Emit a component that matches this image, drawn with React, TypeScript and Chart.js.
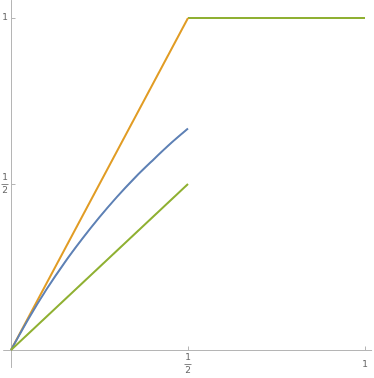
import React, { useEffect, useRef } from "react";
import { Chart, registerables } from "chart.js";

Chart.register(...registerables);

// Data
const blueX = [0, 0.05, 0.1, 0.15, 0.2, 0.25, 0.3, 0.35, 0.4, 0.45, 0.5];
const blueY = [0, 0.095, 0.182, 0.261, 0.333, 0.4, 0.462, 0.519, 0.571, 0.621, 0.667];
const orangeX = [0, 0.5];
const orangeY = [0, 1];
const greenTopX = [0.5, 1];
const greenTopY = [1, 1];
const greenLowX = [0, 0.5];
const greenLowY = [0, 0.5];

const xTickValues = [0.5, 1];
const xTickLabels = ["1/2", "1"];
const yTickValues = [0.5, 1];
const yTickLabels = ["1/2", "1"];

const BLUE = "#5E81B5";
const ORANGE = "#E19C24";
const GREEN = "#8FB032";
const AXIS = "#b5b5b5";
const LABEL = "#6a6a6a";

const pts = (xs: number[], ys: number[]) => xs.map((x, i) => ({ x, y: ys[i] }));

function drawLabel(ctx: CanvasRenderingContext2D, text: string, cx: number, cy: number) {
  ctx.save();
  ctx.fillStyle = LABEL;
  ctx.strokeStyle = LABEL;
  ctx.font = "9px 'DejaVu Sans', sans-serif";
  ctx.textAlign = "center";
  ctx.textBaseline = "middle";
  if (text.includes("/")) {
    const [n, d] = text.split("/");
    ctx.fillText(n, cx, cy - 6.5);
    ctx.lineWidth = 0.8;
    ctx.beginPath();
    ctx.moveTo(cx - 3.5, cy + 0.5);
    ctx.lineTo(cx + 3.5, cy + 0.5);
    ctx.stroke();
    ctx.fillText(d, cx, cy + 7);
  } else {
    ctx.fillText(text, cx, cy);
  }
  ctx.restore();
}

const axesPlugin = {
  id: "mmaAxes",
  beforeDatasetsDraw(chart: any) {
    const ctx: CanvasRenderingContext2D = chart.ctx;
    const xs = chart.scales.x;
    const ys = chart.scales.y;
    const x0 = Math.round(xs.getPixelForValue(0)) + 0.5;
    const y0 = Math.round(ys.getPixelForValue(0)) + 0.5;
    ctx.save();
    ctx.strokeStyle = AXIS;
    ctx.lineWidth = 1;
    ctx.beginPath();
    // x axis
    ctx.moveTo(xs.getPixelForValue(-0.022), y0);
    ctx.lineTo(xs.getPixelForValue(1.02), y0);
    // y axis
    ctx.moveTo(x0, ys.getPixelForValue(1.054));
    ctx.lineTo(x0, ys.getPixelForValue(-0.054));
    // ticks
    xTickValues.forEach((v) => {
      const px = Math.round(xs.getPixelForValue(v)) + 0.5;
      ctx.moveTo(px, y0);
      ctx.lineTo(px, y0 - 4);
    });
    yTickValues.forEach((v) => {
      const py = Math.round(ys.getPixelForValue(v)) + 0.5;
      ctx.moveTo(x0, py);
      ctx.lineTo(x0 + 4, py);
    });
    ctx.stroke();
    ctx.restore();

    xTickValues.forEach((v, i) => {
      const px = xs.getPixelForValue(v);
      const lab = xTickLabels[i];
      drawLabel(ctx, lab, px, lab.includes("/") ? y0 + 13.5 : y0 + 14);
    });
    yTickValues.forEach((v, i) => {
      const py = ys.getPixelForValue(v);
      drawLabel(ctx, yTickLabels[i], x0 - 6.5, py);
    });
  },
};

export default function App() {
  const ref = useRef<HTMLCanvasElement | null>(null);
  useEffect(() => {
    document.body.style.margin = "0";
    const canvas = ref.current!;
    const chart = new Chart(canvas, {
      type: "scatter",
      data: {
        datasets: [
          {
            data: pts(greenLowX, greenLowY),
            showLine: true,
            borderColor: GREEN,
            borderWidth: 2,
            pointRadius: 0,
          },
          {
            data: pts(blueX, blueY),
            showLine: true,
            borderColor: BLUE,
            borderWidth: 2,
            pointRadius: 0,
            cubicInterpolationMode: "monotone",
          },
          {
            data: pts(orangeX, orangeY),
            showLine: true,
            borderColor: ORANGE,
            borderWidth: 2,
            pointRadius: 0,
          },
          {
            data: pts(greenTopX, greenTopY),
            showLine: true,
            borderColor: GREEN,
            borderWidth: 2,
            pointRadius: 0,
          },
        ],
      },
      options: {
        responsive: false,
        animation: false,
        devicePixelRatio: 1,
        layout: { padding: 0 },
        plugins: { legend: { display: false }, tooltip: { enabled: false } },
        scales: {
          x: { type: "linear", display: false, min: -11 / 354, max: 1 + 9 / 354 },
          y: { type: "linear", display: false, min: -28 / 332, max: 1 + 18 / 332 },
        },
      },
      plugins: [axesPlugin],
    } as any);
    return () => chart.destroy();
  }, []);
  return (
    <div style={{ width: 374, height: 378, background: "#fff" }}>
      <canvas ref={ref} width={374} height={378} style={{ display: "block" }} />
    </div>
  );
}
